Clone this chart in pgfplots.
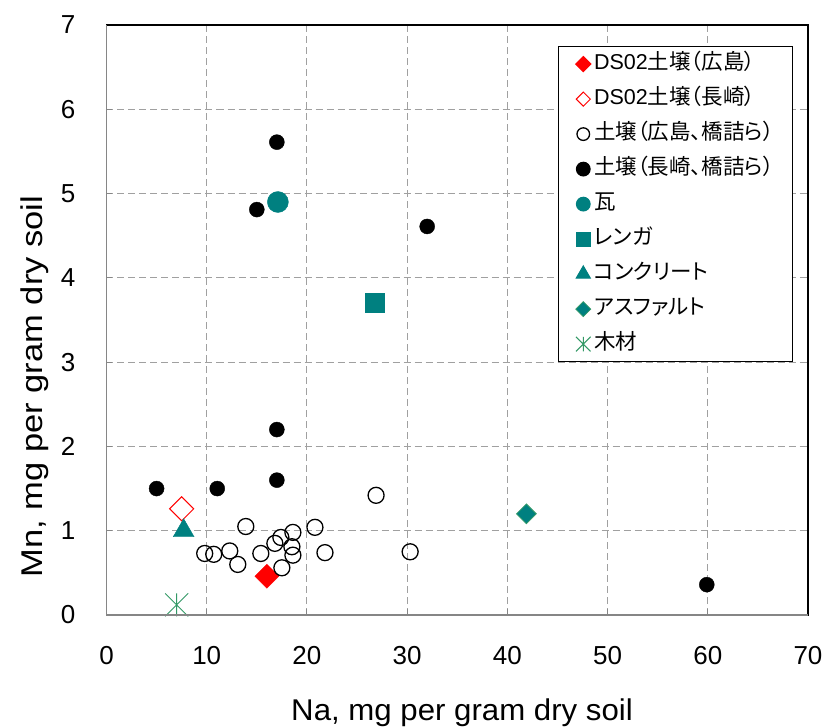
\documentclass[border=0pt]{standalone}
\usepackage{pgfplots}
\pgfplotsset{compat=1.18}
\usepackage{fontspec}
\usepackage{graphicx}
\setmainfont{Liberation Sans}
\newfontfamily\cjk[RawFeature=+palt]{Noto Sans CJK JP}
\definecolor{tealc}{RGB}{0,128,128}
\definecolor{sea}{RGB}{51,153,102}
\definecolor{axgray}{RGB}{134,134,134}
\definecolor{gridgray}{RGB}{160,160,160}
\pgfdeclareplotmark{xstar}{%
  \pgfpathmoveto{\pgfqpoint{0pt}{\pgfplotmarksize}}%
  \pgfpathlineto{\pgfqpoint{0pt}{-\pgfplotmarksize}}%
  \pgfpathmoveto{\pgfqpoint{-\pgfplotmarksize}{\pgfplotmarksize}}%
  \pgfpathlineto{\pgfqpoint{\pgfplotmarksize}{-\pgfplotmarksize}}%
  \pgfpathmoveto{\pgfqpoint{-\pgfplotmarksize}{-\pgfplotmarksize}}%
  \pgfpathlineto{\pgfqpoint{\pgfplotmarksize}{\pgfplotmarksize}}%
  \pgfusepathqstroke}
\begin{document}
\begin{tikzpicture}
\begin{axis}[
  name=ax, at={(0pt,0pt)}, anchor=south west,
  scale only axis, width=701.5pt, height=590pt,
  xmin=0, xmax=70, ymin=0, ymax=7,
  xtick={0,10,...,70}, ytick={0,1,...,7},
  xtick pos=bottom, ytick pos=left,
  tick align=inside, major tick length=6pt,
  tick style={axgray, line width=1pt},
  axis line style={black, line width=1.2pt},
  grid=major,
  major grid style={gridgray, line width=1pt, dash pattern=on 7pt off 4pt},
  /pgf/number format/assume math mode=true,
  tick label style={font=\fontsize{26}{30}\selectfont},
  xticklabel style={anchor=north, inner sep=0pt, yshift=-31pt},
  yticklabel style={anchor=east, inner sep=0pt, xshift=-31pt},
  xlabel={\scalebox{1.04}[1]{Na, mg per gram dry soil}},
  ylabel={\scalebox{1.15}[1]{Mn, mg per gram dry soil}},
  label style={font=\fontsize{30}{35}\selectfont},
  xlabel style={at={(axis description cs:0.5068,-0.1650)}, anchor=center},
  ylabel style={at={(axis description cs:-0.1030,0.3873)}, anchor=center, rotate=0},
  legend image code/.code={%
    \path[draw=none, fill=none] (-3.2pt,0pt) rectangle (13pt,0pt);
    \draw[#1, only marks] plot coordinates {(6pt,0pt)};},
  legend style={at={(0.6436,0.9644)}, anchor=north west, draw=black, line width=1.2pt, fill=white,
    font=\fontsize{21.5}{26}\selectfont, inner xsep=15.5pt, inner ysep=8pt, row sep=16pt,
    nodes={text height=15pt, text depth=4pt, inner ysep=0pt, inner xsep=3.3pt}},
  legend cell align=left,
]
\addplot[only marks, mark=square*, mark size=8.5pt, mark options={rotate=45, fill=red, draw=red},
  legend image post style={mark size=5.3pt}] coordinates {(16.0,0.46)};
\addlegendentry{DS02{\cjk 土壌（広島）}}
\addplot[only marks, mark=square, mark size=8.5pt, mark options={rotate=45, draw=red, fill=white, line width=1pt},
  legend image post style={mark size=5pt}] coordinates {(7.5,1.26)};
\addlegendentry{DS02{\cjk 土壌（長崎）}}
\addplot[only marks, mark=o, mark size=8pt, mark options={draw=black, line width=1.3pt},
  legend image post style={mark size=6.3pt}] coordinates {
  (26.9,1.42) (13.9,1.05) (20.8,1.04) (18.6,0.98) (17.4,0.92) (16.8,0.85)
  (18.5,0.81) (18.6,0.71) (9.8,0.73) (10.7,0.72) (12.3,0.76) (13.1,0.60)
  (15.4,0.73) (17.5,0.56) (21.8,0.74) (30.3,0.75)};
\addlegendentry{{\cjk 土壌（広島、橋詰ら）}}
\addplot[only marks, mark=*, mark size=7.5pt, mark options={draw=black, fill=black},
  legend image post style={mark size=6.8pt}] coordinates {
  (17.0,2.20) (17.0,1.60) (5.0,1.50) (11.05,1.50) (17.0,5.61) (15.0,4.81) (32.0,4.61) (59.9,0.36)};
\addlegendentry{{\cjk 土壌（長崎、橋詰ら）}}
\addplot[only marks, mark=*, mark size=10.5pt, mark options={draw=tealc, fill=tealc},
  legend image post style={mark size=6.8pt}] coordinates {(17.1,4.90)};
\addlegendentry{{\cjk 瓦}}
\addplot[only marks, mark=square*, mark size=9.5pt, mark options={draw=tealc, fill=tealc},
  legend image post style={mark size=7pt}] coordinates {(26.8,3.70)};
\addlegendentry{{\cjk レンガ}}
\addplot[only marks, mark=triangle*, mark size=12pt, mark options={draw=tealc, fill=tealc},
  legend image post style={mark size=8pt}] coordinates {(7.7,1.0)};
\addlegendentry{{\cjk コンクリート}}
\addplot[only marks, mark=square*, mark size=7pt, mark options={rotate=45, draw=sea, fill=tealc, line width=0.8pt},
  legend image post style={mark size=5.3pt}] coordinates {(41.9,1.20)};
\addlegendentry{{\cjk アスファルト}}
\addplot[only marks, mark=xstar, mark size=11.5pt, mark options={draw=sea, line width=1pt},
  legend image post style={mark size=7.3pt}] coordinates {(7.0,0.12)};
\addlegendentry{{\cjk 木材}}
\end{axis}
\draw[axgray, line width=1.3pt] (ax.north west) -- (ax.south west) -- (ax.south east);
\pgfresetboundingbox
\path (-106.5pt,-111pt) rectangle (715.5pt,615pt);
\end{tikzpicture}
\end{document}
